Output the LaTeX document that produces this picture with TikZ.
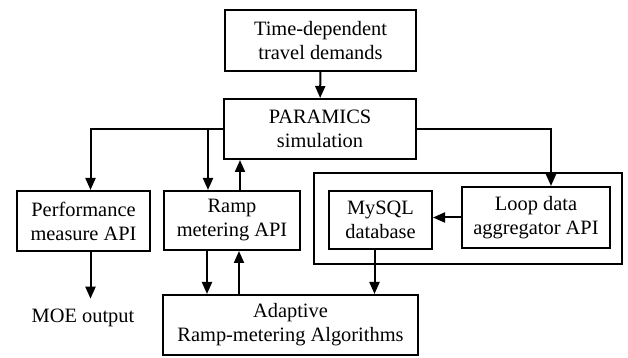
\documentclass[tikz,border=0pt]{standalone}
\usepackage{fontspec}
\setmainfont{Liberation Serif}
\usetikzlibrary{arrows.meta}

\tikzset{
  block/.style={draw, line width=1pt, align=center, inner sep=0pt,
    font=\fontsize{10.2}{12}\selectfont},
  plain/.style={align=center, inner sep=5pt, font=\fontsize{10.2}{12}\selectfont},
  link/.style={line width=1pt, -{Triangle[length=6pt,width=5pt]}},
}

\begin{document}
\begin{tikzpicture}[x=0.5pt, y=-0.5pt]
 \useasboundingbox (0,0) rectangle (628,358);
 % boxes
 \node [block, minimum width=95.5pt, minimum height=30.5pt] (demand) at (320.5,40.5) {Time-dependent\\travel demands};
 \node [block, minimum width=96pt, minimum height=30pt] (paramics) at (320,129) {PARAMICS\\simulation};
 \node [block, minimum width=66.5pt, minimum height=30pt] (perf) at (83.5,221) {Performance\\measure API};
 \node [block, minimum width=68pt, minimum height=29.5pt] (ramp) at (232,220.5) {Ramp\\metering API};
 \node [block, minimum width=154pt, minimum height=45.5pt] (store) at (468,218.5) {};
 \node [block, minimum width=51.5pt, minimum height=29pt] (mysql) at (380.5,220) {MySQL\\database};
 \node [block, minimum width=74pt, minimum height=30.5pt] (loop) at (536,217.5) {Loop data\\aggregator API};
 \node [block, minimum width=127.5pt, minimum height=30pt] (adaptive) at (290.5,325) {Adaptive\\Ramp-metering Algorithms};
 \node [plain] (moe) at (83,318) {MOE output};
 % connectors
 \draw [link] (demand) -- (paramics);
 \draw [link] (paramics.west) -| ([xshift=3.5pt]perf.north);
 \draw [link] ([xshift=-12pt]ramp.north |- paramics.west) -- ([xshift=-12pt]ramp.north);
 \draw [link] ([xshift=4pt]ramp.north) -- ([xshift=4pt]ramp.north |- paramics.south);
 \draw [link] ([xshift=-12.5pt]ramp.south) -- ([xshift=-12.5pt]ramp.south |- adaptive.north);
 \draw [link] ([xshift=3.5pt]ramp.south |- adaptive.north) -- ([xshift=3.5pt]ramp.south);
 \draw [link] (paramics.east) -| ([xshift=7.5pt]loop.north);
 \draw [link] (loop.west) -- (loop.west -| mysql.east);
 \draw [link] ([xshift=-3pt]mysql.south) -- ([xshift=-3pt]mysql.south |- adaptive.north);
 \draw [link] ([xshift=3.5pt]perf.south) -- ([xshift=3.5pt]perf.south |- moe.north);
\end{tikzpicture}
\end{document}
